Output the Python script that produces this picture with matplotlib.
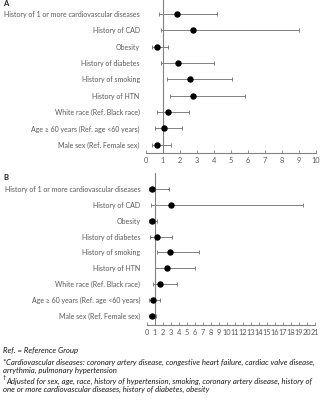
import matplotlib
matplotlib.use('Agg')
import matplotlib.pyplot as plt
import numpy as np

plt.rcParams['font.family'] = ['Lato', 'DejaVu Sans']

LABELS = [
    'History of 1 or more cardiovascular diseases',
    'History of CAD',
    'Obesity',
    'History of diabetes',
    'History of smoking',
    'History of HTN',
    'White race (Ref. Black race)',
    'Age \u2265 60 years (Ref. age <60 years)',
    'Male sex (Ref. Female sex)',
]

# Panel A: odds ratio with 95% CI
A_OR = [1.80, 2.78, 0.67, 1.90, 2.59, 2.78, 1.29, 1.08, 0.65]
A_LO = [0.76, 0.88, 0.35, 0.88, 1.25, 1.39, 0.65, 0.55, 0.35]
A_HI = [4.20, 9.00, 1.29, 4.00, 5.08, 5.80, 2.50, 2.10, 1.45]

# Panel B: adjusted
B_OR = [0.66, 3.08, 0.62, 1.25, 2.87, 2.58, 1.66, 0.83, 0.62]
B_LO = [0.25, 0.58, 0.33, 0.46, 1.33, 1.08, 0.75, 0.33, 0.29]
B_HI = [2.80, 19.5, 1.25, 3.16, 6.50, 6.00, 3.80, 1.70, 1.12]

GREY = '#808080'
TXT = '#595959'
FS = 5.0

fig = plt.figure(figsize=(3.26, 4.0), dpi=100)


def forest(ax, vals, lo, hi, xmax, ylim):
    n = len(vals)
    ys = np.arange(n, 0, -1)
    vals = np.array(vals)
    err = [vals - np.array(lo), np.array(hi) - vals]
    ax.errorbar(vals, ys, xerr=err, fmt='o', color='black', ms=3.6,
                ecolor=GREY, elinewidth=0.7, capsize=1.2, capthick=0.7, zorder=3)
    ax.axvline(1, color=GREY, lw=0.8, zorder=1)
    ax.set_xlim(0, xmax)
    ax.set_ylim(*ylim)
    ax.set_xticks(range(0, xmax + 1))
    ax.set_yticks(ys)
    ax.set_yticklabels(LABELS)
    for s in ('top', 'right', 'left'):
        ax.spines[s].set_visible(False)
    ax.spines['bottom'].set_color(GREY)
    ax.spines['bottom'].set_linewidth(0.8)
    ax.tick_params(axis='y', length=0, pad=4.5, labelsize=FS, labelcolor=TXT)
    ax.tick_params(axis='x', direction='in', length=2, width=0.6, color=GREY,
                   pad=3, labelsize=5.3, labelcolor=TXT)
    ax.set_facecolor('none')


axA = fig.add_axes([146 / 326, 1 - 153 / 400, 170 / 326, 153 / 400])
forest(axA, A_OR, A_LO, A_HI, 10, (0.5, 9.85))

axB = fig.add_axes([146.7 / 326, 1 - 325 / 400, 168.3 / 326, 152 / 400])
forest(axB, B_OR, B_LO, B_HI, 21, (0.43, 10.0))

fig.text(3 / 326, 1 - 4 / 400, 'A', fontsize=5.5, fontweight='bold', va='center', color='#222222')
fig.text(3 / 326, 1 - 177 / 400, 'B', fontsize=5.5, fontweight='bold', va='center', color='#222222')

notes = [
    (3, 351, 'Ref. = Reference Group'),
    (3, 362, '*Cardiovascular diseases: coronary artery disease, congestive heart failure, cardiac valve disease,'),
    (3, 370, 'arrythmia, pulmonary hypertension'),
    (6, 381, 'Adjusted for sex, age, race, history of hypertension, smoking, coronary artery disease, history of'),
    (3, 389, 'one or more cardiovascular diseases, history of diabetes, obesity'),
]
for x, y, t in notes:
    fig.text(x / 326, 1 - y / 400, t, fontsize=5.6, style='italic', va='center', color='#1a1a1a')
fig.text(3 / 326, 1 - 378 / 400, '\u2020', fontsize=4.2, va='center', color='#1a1a1a')

fig.savefig('out.png', dpi=100)
